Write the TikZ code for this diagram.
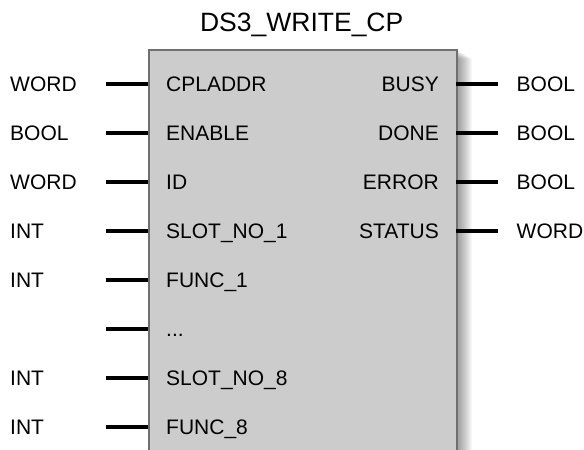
\documentclass[tikz,border=0pt]{standalone}
\usepackage{fontspec}
\setmainfont{Liberation Sans}
\newcommand\threedots{...}
\begin{document}
\begin{tikzpicture}[x=1pt,y=-1pt,
  lbl/.style={font=\fontsize{21}{21}\selectfont, inner sep=0pt, anchor=base west},
  rlbl/.style={font=\fontsize{21}{21}\selectfont, inner sep=0pt, anchor=base east},
  pin/.style={line width=4pt, black},
  ttl/.style={font=\fontsize{26.5}{26.5}\selectfont, inner sep=0pt, anchor=base}]
\useasboundingbox (0,0) rectangle (584,450);
% shadow
\foreach \k in {1,...,16}{
  \fill[black,opacity=0.03] (148,{49+\k*0.6}) rectangle ({456+\k},470);
}
\node[draw={rgb,255:red,112;green,112;blue,112}, line width=1.5pt, fill={rgb,255:red,204;green,204;blue,204},
  minimum width=308pt, minimum height=430pt, inner sep=0pt, anchor=north west] (fb) at (148,49) {};
\node[ttl] (title) at (301.7,31.7) {DS3\_WRITE\_CP};
% inputs
\foreach \nm/\typ/\pinname [count=\i from 0] in {CPLADDR/WORD/a,ENABLE/BOOL/b,ID/WORD/c,SLOT\_NO\_1/INT/d,FUNC\_1/INT/e,\threedots/{}/f,SLOT\_NO\_8/INT/g,FUNC\_8/INT/h}{
  \coordinate (l\pinname) at (106,{83.5+49*\i});
  \coordinate (k\pinname) at (148,{83.5+49*\i});
  \draw[pin] (l\pinname) -- (k\pinname);
  \node[lbl] (in\pinname) at (166,{83.5+49*\i+7.6}) {\nm};
  \node[lbl] (ty\pinname) at (10,{83.5+49*\i+7.6}) {\typ};
}
% outputs
\foreach \nm/\typ/\pinname [count=\i from 0] in {BUSY/BOOL/a,DONE/BOOL/b,ERROR/BOOL/c,STATUS/WORD/d}{
  \coordinate (ro\pinname) at (456,{83.5+49*\i});
  \coordinate (re\pinname) at (498,{83.5+49*\i});
  \draw[pin] (ro\pinname) -- (re\pinname);
  \node[rlbl] (out\pinname) at (439,{83.5+49*\i+7.6}) {\nm};
  \node[lbl] (oty\pinname) at (516.5,{83.5+49*\i+7.6}) {\typ};
}
\end{tikzpicture}
\end{document}
